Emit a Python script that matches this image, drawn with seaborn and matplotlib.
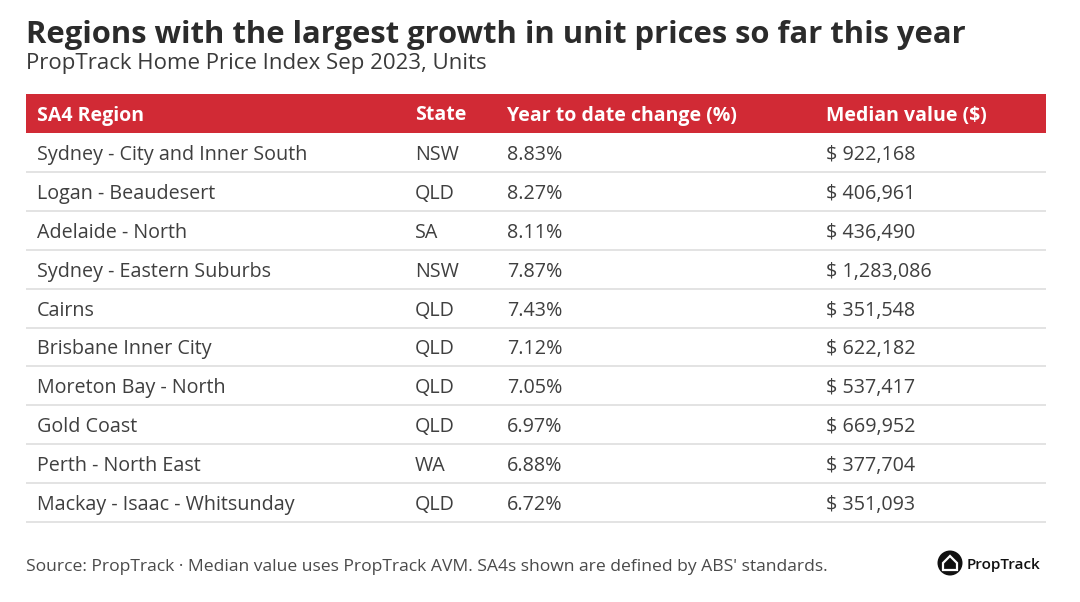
import matplotlib.pyplot as plt
import seaborn as sns
from matplotlib.patches import Rectangle, Circle, Polygon

# table data
regions = ["Sydney - City and Inner South", "Logan - Beaudesert", "Adelaide - North",
           "Sydney - Eastern Suburbs", "Cairns", "Brisbane Inner City",
           "Moreton Bay - North", "Gold Coast", "Perth - North East",
           "Mackay - Isaac - Whitsunday"]
states = ["NSW", "QLD", "SA", "NSW", "QLD", "QLD", "QLD", "QLD", "WA", "QLD"]
ytd_change = [8.83, 8.27, 8.11, 7.87, 7.43, 7.12, 7.05, 6.97, 6.88, 6.72]
median_value = [922168, 406961, 436490, 1283086, 351548, 622182, 537417, 669952, 377704, 351093]
headers = ["SA4 Region", "State", "Year to date change (%)", "Median value ($)"]

sns.set_theme(style="white")
plt.rcParams['font.family'] = ['Open Sans', 'DejaVu Sans']

RED = "#D12A35"
TXT = "#3f3f3f"

fig = plt.figure(figsize=(10.8, 6.02), dpi=100)
ax = fig.add_axes([0, 0, 1, 1])
ax.set_xlim(0, 1080)
ax.set_ylim(602, 0)
ax.axis("off")

ax.text(26, 31.5, "Regions with the largest growth in unit prices so far this year",
        fontsize=22.3, fontweight="bold", color="#2b2b2b", va="center_baseline", ha="left")
ax.text(26, 61.5, "PropTrack Home Price Index Sep 2023, Units",
        fontsize=16, color="#3a3a3a", va="center_baseline", ha="left")

left, right = 26, 1046
col_x = [37, 415, 507, 826]
head_top, head_bot = 94, 133
row_h = 38.9

ax.add_patch(Rectangle((left, head_top), right - left, head_bot - head_top, color=RED, lw=0))
for x, h in zip(col_x, headers):
    ax.text(x, (head_top + head_bot) / 2 - 0.5, h, color="white", fontsize=14,
            fontweight="bold", va="center_baseline", ha="left")

for i, (r, s, c, m) in enumerate(zip(regions, states, ytd_change, median_value)):
    yc = head_bot + row_h * (i + 0.5)
    cells = [r, s, f"{c:.2f}%", f"$ {m:,}"]
    for x, t in zip(col_x, cells):
        ax.text(x, yc, t, color=TXT, fontsize=14.2, va="center_baseline", ha="left")
    yb = head_bot + row_h * (i + 1)
    ax.plot([left, right], [yb, yb], color="#dedede", lw=1.2, solid_capstyle="butt")

ax.text(26, 565, "Source: PropTrack \u00b7 Median value uses PropTrack AVM. SA4s shown are defined by ABS' standards.",
        color="#4a4a4a", fontsize=12.6, va="center_baseline", ha="left")

# logo
ax.add_patch(Circle((950, 563), 12.5, color="#111111", lw=0))
ax.add_patch(Polygon([[943, 563], [950, 556], [957, 563], [957, 570], [943, 570]],
                     closed=True, fill=False, edgecolor="white", lw=1.6))
ax.text(967, 563, "PropTrack", color="#111111", fontsize=11, fontweight="semibold",
        va="center_baseline", ha="left")

fig.savefig("out.png", dpi=100)
